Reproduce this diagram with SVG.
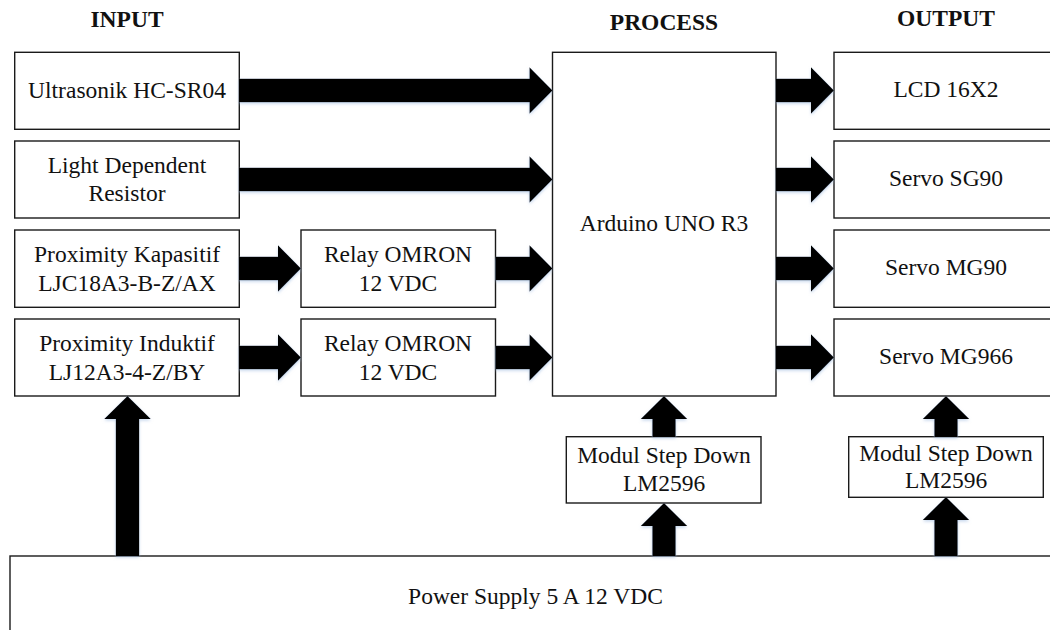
<svg xmlns="http://www.w3.org/2000/svg" width="1050" height="630" viewBox="0 0 1050 630">
<style>
.box{fill:#fff;stroke:#1a1a1a;stroke-width:1.4}
.t{font-family:"Liberation Serif","Times New Roman",serif;font-size:23.5px;fill:#111;text-anchor:middle}
.h{font-family:"Liberation Serif","Times New Roman",serif;font-size:23.5px;font-weight:bold;fill:#111;text-anchor:middle}
.arr{fill:#000;filter:url(#glow)}
</style>
<defs>
<filter id="glow" x="-20%" y="-20%" width="140%" height="140%">
<feDropShadow dx="0" dy="1.5" stdDeviation="1.5" flood-color="#9fbbe0" flood-opacity="0.6"/>
</filter>
</defs>
<rect width="1050" height="630" fill="#fff"/>
<g id="titles">
<text class="h" x="127" y="26.5">INPUT</text>
<text class="h" x="664" y="30">PROCESS</text>
<text class="h" x="946" y="26">OUTPUT</text>
</g>
<g id="ultrasonik"><rect class="box" x="14.7" y="52.3" width="224.6" height="77"/><text class="t" x="127" y="97.5">Ultrasonik HC-SR04</text></g>
<g id="ldr"><rect class="box" x="14.7" y="141" width="224.6" height="77"/><text class="t" x="127" y="173">Light Dependent</text><text class="t" x="127" y="201">Resistor</text></g>
<g id="prox-kapasitif"><rect class="box" x="14.7" y="230" width="224.6" height="77.3"/><text class="t" x="127" y="262.3">Proximity Kapasitif</text><text class="t" x="127" y="290.7">LJC18A3-B-Z/AX</text></g>
<g id="prox-induktif"><rect class="box" x="14.7" y="319" width="224.6" height="77"/><text class="t" x="127" y="351">Proximity Induktif</text><text class="t" x="127" y="379.5">LJ12A3-4-Z/BY</text></g>
<g id="relay1"><rect class="box" x="301" y="230" width="194.5" height="77.3"/><text class="t" x="398" y="262.3">Relay OMRON</text><text class="t" x="398" y="290.7">12 VDC</text></g>
<g id="relay2"><rect class="box" x="301" y="319" width="194.5" height="77"/><text class="t" x="398" y="351">Relay OMRON</text><text class="t" x="398" y="379.5">12 VDC</text></g>
<g id="arduino"><rect class="box" x="552.5" y="52.3" width="223.5" height="343.7"/><text class="t" x="664" y="231">Arduino UNO R3</text></g>
<g id="lcd"><rect class="box" x="834" y="52.3" width="224" height="77"/><text class="t" x="946" y="97.3">LCD 16X2</text></g>
<g id="servo-sg90"><rect class="box" x="834" y="141" width="224" height="77"/><text class="t" x="946" y="186">Servo SG90</text></g>
<g id="servo-mg90"><rect class="box" x="834" y="230" width="224" height="77.3"/><text class="t" x="946" y="275.3">Servo MG90</text></g>
<g id="servo-mg966"><rect class="box" x="834" y="319" width="224" height="77"/><text class="t" x="946" y="364">Servo MG966</text></g>
<g id="stepdown1"><rect class="box" x="566.3" y="436.7" width="194.7" height="66.3"/><text class="t" x="664" y="463.3">Modul Step Down</text><text class="t" x="664" y="491">LM2596</text></g>
<g id="stepdown2"><rect class="box" x="848.7" y="436.7" width="194.6" height="60.6"/><text class="t" x="946" y="460.7">Modul Step Down</text><text class="t" x="946" y="488.3">LM2596</text></g>
<g id="power-supply"><rect class="box" x="10" y="556" width="1060" height="90"/><text class="t" x="535.5" y="604">Power Supply 5 A 12 VDC</text></g>
<g id="connectors">
<polygon class="arr" points="239,78.8 529.5,78.8 529.5,67.2 552.5,90.5 529.5,113.8 529.5,102.2 239,102.2"/>
<polygon class="arr" points="239,167.8 529.5,167.8 529.5,156.2 552.5,179.5 529.5,202.8 529.5,191.2 239,191.2"/>
<polygon class="arr" points="239,256.8 278,256.8 278,245.2 301,268.5 278,291.8 278,280.2 239,280.2"/>
<polygon class="arr" points="239,345.8 278,345.8 278,334.2 301,357.5 278,380.8 278,369.2 239,369.2"/>
<polygon class="arr" points="495.5,256.8 529.5,256.8 529.5,245.2 552.5,268.5 529.5,291.8 529.5,280.2 495.5,280.2"/>
<polygon class="arr" points="495.5,345.8 529.5,345.8 529.5,334.2 552.5,357.5 529.5,380.8 529.5,369.2 495.5,369.2"/>
<polygon class="arr" points="776,78.8 811,78.8 811,67.2 834,90.5 811,113.8 811,102.2 776,102.2"/>
<polygon class="arr" points="776,167.8 811,167.8 811,156.2 834,179.5 811,202.8 811,191.2 776,191.2"/>
<polygon class="arr" points="776,256.8 811,256.8 811,245.2 834,268.5 811,291.8 811,280.2 776,280.2"/>
<polygon class="arr" points="776,345.8 811,345.8 811,334.2 834,357.5 811,380.8 811,369.2 776,369.2"/>
<polygon class="arr" points="115.8,556 115.8,419 104.2,419 127.5,396 150.8,419 139.2,419 139.2,556"/>
<polygon class="arr" points="652.3,437 652.3,419 640.7,419 664,396 687.3,419 675.7,419 675.7,437"/>
<polygon class="arr" points="652.3,556 652.3,526 640.7,526 664,503 687.3,526 675.7,526 675.7,556"/>
<polygon class="arr" points="934.3,437 934.3,419 922.7,419 946,396 969.3,419 957.7,419 957.7,437"/>
<polygon class="arr" points="934.3,556 934.3,520 922.7,520 946,497 969.3,520 957.7,520 957.7,556"/>
</g>
</svg>
